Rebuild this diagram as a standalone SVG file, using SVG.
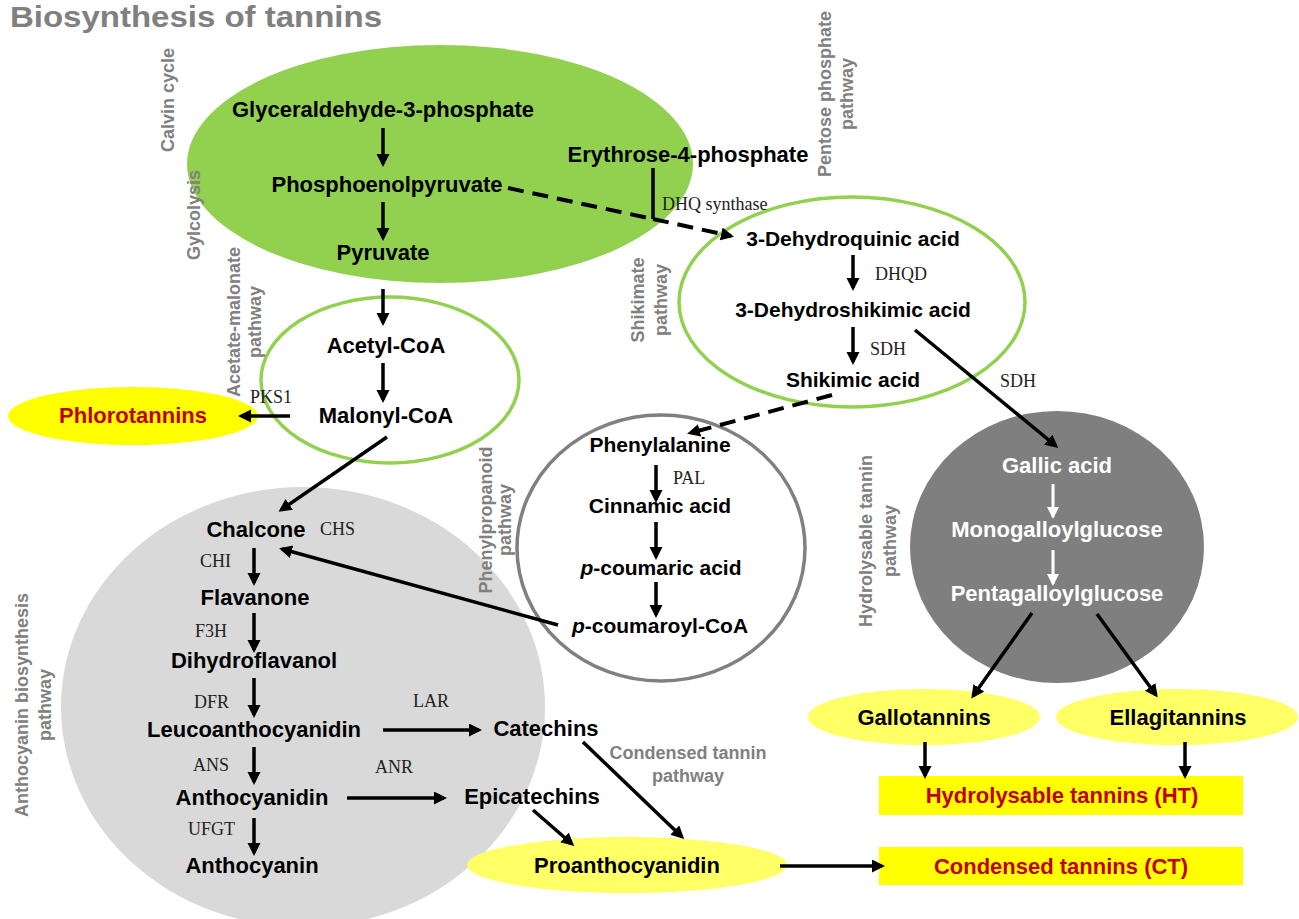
<svg xmlns="http://www.w3.org/2000/svg" width="1299" height="919" viewBox="0 0 1299 919">
<defs>
<style>
.n{font-family:"Liberation Sans",Arial,sans-serif;font-weight:bold;font-size:22px;fill:#000;text-anchor:middle}
.s{font-size:21px}
.w{fill:#fff}
.r{fill:#c00000}
.e{font-family:"Liberation Serif","Times New Roman",serif;font-size:18px;fill:#222}
.g{font-family:"Liberation Sans",Arial,sans-serif;font-weight:bold;font-size:18px;fill:#808080;text-anchor:middle}
.a{stroke:#000;stroke-width:3.5;fill:none;marker-end:url(#ah)}
.aw{stroke:#fff;stroke-width:3;fill:none;marker-end:url(#aw)}
.d{stroke:#000;stroke-width:4;fill:none;stroke-dasharray:16 9}
</style>
<marker id="ah" markerUnits="userSpaceOnUse" markerWidth="14" markerHeight="14" refX="10" refY="6.5" orient="auto"><path d="M0,0 L13,6.5 L0,13 z" fill="#000"/></marker>
<marker id="aw" markerUnits="userSpaceOnUse" markerWidth="14" markerHeight="14" refX="10" refY="6" orient="auto"><path d="M0,0 L12,6 L0,12 z" fill="#fff"/></marker>
</defs>
<rect width="1299" height="919" fill="#fff"/>
<text x="10" y="27" font-family="Liberation Sans, Arial, sans-serif" font-weight="bold" font-size="30" fill="#808080" textLength="372" lengthAdjust="spacingAndGlyphs">Biosynthesis of tannins</text>

<g id="region-calvin"><ellipse cx="440" cy="164" rx="253" ry="119" fill="#92d050"/></g>
<g id="region-acetate"><ellipse cx="390" cy="380" rx="129" ry="83" fill="none" stroke="#92d050" stroke-width="3.5"/></g>
<g id="region-shikimate"><ellipse cx="852" cy="302" rx="173" ry="105" fill="none" stroke="#92d050" stroke-width="3.5"/></g>
<g id="region-anthocyanin"><ellipse cx="303" cy="707" rx="242" ry="220" fill="#d9d9d9"/></g>
<g id="region-phenylpropanoid"><ellipse cx="661" cy="548" rx="144" ry="133" fill="none" stroke="#808080" stroke-width="3.5"/></g>
<g id="region-hydrolysable"><ellipse cx="1057" cy="547" rx="147" ry="136" fill="#7f7f7f"/></g>

<g id="labels">
<text class="g" transform="translate(174,100) rotate(-90)">Calvin cycle</text>
<text class="g" transform="translate(200,215) rotate(-90)">Gylcolysis</text>
<text class="g" transform="translate(240,322) rotate(-90)" font-size="17.5"><tspan x="0" y="0">Acetate-malonate</tspan><tspan x="0" dy="21">pathway</tspan></text>
<text class="g" transform="translate(831,94) rotate(-90)"><tspan x="0" y="0">Pentose phosphate</tspan><tspan x="0" dy="22">pathway</tspan></text>
<text class="g" transform="translate(644,300) rotate(-90)"><tspan x="0" y="0">Shikimate</tspan><tspan x="0" dy="23">pathway</tspan></text>
<text class="g" transform="translate(492,520) rotate(-90)"><tspan x="0" y="0">Phenylpropanoid</tspan><tspan x="0" dy="19">pathway</tspan></text>
<text class="g" transform="translate(872,541) rotate(-90)"><tspan x="0" y="0">Hydrolysable tannin</tspan><tspan x="0" dy="24">pathway</tspan></text>
<text class="g" transform="translate(28,705) rotate(-90)"><tspan x="0" y="0">Anthocyanin biosynthesis</tspan><tspan x="0" dy="23">pathway</tspan></text>
<text class="g"><tspan x="688" y="759">Condensed tannin</tspan><tspan x="688" y="782">pathway</tspan></text>
</g>

<g id="node-phlorotannins"><ellipse cx="133" cy="416" rx="125" ry="29" fill="#ffff00"/><text class="n r" x="133" y="423">Phlorotannins</text></g>
<g id="node-gallotannins"><ellipse cx="924" cy="717" rx="116" ry="28" fill="#ffff66"/><text class="n" x="924" y="725">Gallotannins</text></g>
<g id="node-ellagitannins"><ellipse cx="1177" cy="717" rx="121" ry="28" fill="#ffff66"/><text class="n" x="1178" y="725">Ellagitannins</text></g>
<g id="node-ht"><rect x="879" y="776" width="364" height="39" fill="#ffff00"/><text class="n r" x="1062" y="803">Hydrolysable tannins (HT)</text></g>
<g id="node-ct"><rect x="879" y="847" width="364" height="38" fill="#ffff00"/><text class="n r" x="1061" y="874">Condensed tannins (CT)</text></g>
<g id="node-proanthocyanidin"><ellipse cx="627" cy="865" rx="160" ry="28" fill="#ffff66"/><text class="n" x="627" y="873">Proanthocyanidin</text></g>

<g id="connectors">
<line class="a" x1="383" y1="128" x2="383" y2="164"/>
<line class="a" x1="383" y1="202" x2="383" y2="238"/>
<line class="a" x1="383" y1="289" x2="383" y2="323"/>
<line class="a" x1="383" y1="363" x2="383" y2="400"/>
<line class="a" x1="290" y1="416" x2="241" y2="416"/>
<line class="a" x1="387" y1="437" x2="281" y2="510"/>
<line class="d" x1="508" y1="188" x2="653" y2="219"/>
<path d="M653,219 L731,236" class="d" style="marker-end:url(#ah)"/>
<line x1="653" y1="168" x2="653" y2="219" stroke="#000" stroke-width="3.5"/>
<line class="a" x1="853" y1="255" x2="853" y2="288"/>
<line class="a" x1="853" y1="327" x2="853" y2="362"/>
<line class="a" x1="915" y1="330" x2="1056" y2="446"/>
<path d="M832,395 L690,433" class="d" style="marker-end:url(#ah)"/>
<line class="a" x1="656" y1="465" x2="656" y2="500"/>
<line class="a" x1="656" y1="522" x2="656" y2="557"/>
<line class="a" x1="656" y1="582" x2="656" y2="615"/>
<line class="a" x1="558" y1="625" x2="282" y2="549"/>
<line class="a" x1="254" y1="548" x2="254" y2="583"/>
<line class="a" x1="254" y1="613" x2="254" y2="650"/>
<line class="a" x1="254" y1="678" x2="254" y2="715"/>
<line class="a" x1="254" y1="747" x2="254" y2="782"/>
<line class="a" x1="254" y1="818" x2="254" y2="853"/>
<line class="a" x1="383" y1="730" x2="479" y2="730"/>
<line class="a" x1="347" y1="798" x2="444" y2="798"/>
<line class="a" x1="583" y1="742" x2="682" y2="837"/>
<line class="a" x1="533" y1="810" x2="572" y2="844"/>
<line class="a" x1="780" y1="866" x2="882" y2="866"/>
<line class="aw" x1="1053" y1="484" x2="1053" y2="517"/>
<line class="aw" x1="1053" y1="550" x2="1053" y2="584"/>
<line class="a" x1="1032" y1="613" x2="973" y2="696"/>
<line class="a" x1="1097" y1="614" x2="1156" y2="695"/>
<line class="a" x1="925" y1="742" x2="925" y2="776"/>
<line class="a" x1="1185" y1="742" x2="1185" y2="776"/>
</g>

<g id="enzymes">
<text class="e" x="662" y="210">DHQ synthase</text>
<text class="e" x="875" y="280">DHQD</text>
<text class="e" x="870" y="355">SDH</text>
<text class="e" x="1000" y="387">SDH</text>
<text class="e" x="250" y="403">PKS1</text>
<text class="e" x="673" y="484">PAL</text>
<text class="e" x="320" y="535">CHS</text>
<text class="e" x="200" y="567">CHI</text>
<text class="e" x="195" y="637">F3H</text>
<text class="e" x="194" y="708">DFR</text>
<text class="e" x="193" y="771">ANS</text>
<text class="e" x="188" y="835">UFGT</text>
<text class="e" x="413" y="707">LAR</text>
<text class="e" x="375" y="773">ANR</text>
</g>

<g id="node-g3p"><text class="n" x="383" y="117">Glyceraldehyde-3-phosphate</text></g>
<g id="node-pep"><text class="n" x="387" y="192">Phosphoenolpyruvate</text></g>
<g id="node-pyruvate"><text class="n" x="383" y="260">Pyruvate</text></g>
<g id="node-e4p"><text class="n" x="688" y="162">Erythrose-4-phosphate</text></g>
<g id="node-acetylcoa"><text class="n" x="386" y="353">Acetyl-CoA</text></g>
<g id="node-malonylcoa"><text class="n" x="386" y="423">Malonyl-CoA</text></g>
<g id="node-dhq"><text class="n s" x="853" y="246">3-Dehydroquinic acid</text></g>
<g id="node-dhs"><text class="n s" x="853" y="317">3-Dehydroshikimic acid</text></g>
<g id="node-shikimic"><text class="n s" x="853" y="387">Shikimic acid</text></g>
<g id="node-phenylalanine"><text class="n s" x="660" y="452">Phenylalanine</text></g>
<g id="node-cinnamic"><text class="n s" x="660" y="513">Cinnamic acid</text></g>
<g id="node-pcoumaric"><text class="n s" x="661" y="575"><tspan font-style="italic">p</tspan>-coumaric acid</text></g>
<g id="node-pcoumaroyl"><text class="n s" x="660" y="633"><tspan font-style="italic">p</tspan>-coumaroyl-CoA</text></g>
<g id="node-chalcone"><text class="n" x="256" y="537">Chalcone</text></g>
<g id="node-flavanone"><text class="n" x="255" y="605">Flavanone</text></g>
<g id="node-dihydroflavanol"><text class="n" x="254" y="668">Dihydroflavanol</text></g>
<g id="node-leuco"><text class="n" x="254" y="737">Leucoanthocyanidin</text></g>
<g id="node-anthocyanidin"><text class="n" x="252" y="805">Anthocyanidin</text></g>
<g id="node-anthocyanin"><text class="n" x="252" y="873">Anthocyanin</text></g>
<g id="node-catechins"><text class="n" x="546" y="736">Catechins</text></g>
<g id="node-epicatechins"><text class="n" x="532" y="804">Epicatechins</text></g>
<g id="node-gallic"><text class="n w" x="1057" y="473">Gallic acid</text></g>
<g id="node-mgg"><text class="n w" x="1057" y="537">Monogalloylglucose</text></g>
<g id="node-pgg"><text class="n w" x="1057" y="601">Pentagalloylglucose</text></g>
</svg>
